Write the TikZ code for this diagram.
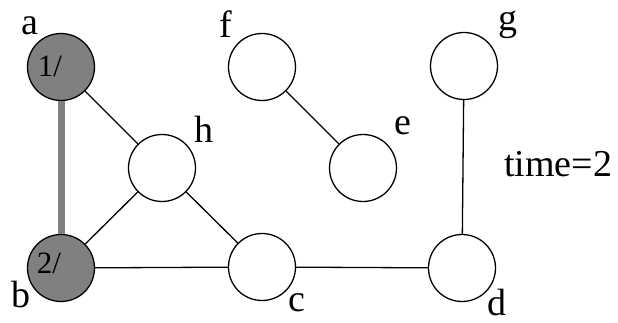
\documentclass[tikz,border=0pt]{standalone}
\usepackage{fontspec}
\setmainfont{Liberation Serif}
\definecolor{vgray}{RGB}{128,128,128}
\begin{document}
\begin{tikzpicture}[x=1pt,y=-1pt,
  vtx/.style={circle,draw=black,line width=1.3pt,fill=white,minimum size=67pt,inner sep=0pt},
  seen/.style={vtx,fill=vgray},
  lbl/.style={anchor=base,inner sep=0pt,font=\fontsize{38}{40}\selectfont},
  stamp/.style={anchor=base,inner sep=0pt,font=\fontsize{31}{33}\selectfont},
  edge/.style={line width=1.3pt,black},
  tree/.style={line width=7pt,vgray}]
\useasboundingbox (0,0) rectangle (618,323);
\node[seen] (a) at (61,67) {};
\node[seen] (b) at (61,268) {};
\node[vtx] (h) at (162,168) {};
\node[vtx] (c) at (262,267) {};
\node[vtx] (f) at (262,67) {};
\node[vtx] (e) at (363,168) {};
\node[vtx] (g) at (464,66) {};
\node[vtx] (d) at (462,268) {};
\draw[tree] (a) -- (b);
\draw[edge] (a) -- (h);
\draw[edge] (b) -- (h);
\draw[edge] (h) -- (c);
\draw[edge] (b) -- (c);
\draw[edge] (c) -- (d);
\draw[edge] (d) -- (g);
\draw[edge] (f) -- (e);
\node[stamp] (ta) at (50,77) {1/};
\node[stamp] (tb) at (49,273) {2/};
\node[lbl] (la) at (30,35) {a};
\node[lbl] (lb) at (21,307) {b};
\node[lbl] (lh) at (204,143) {h};
\node[lbl] (lf) at (226,38) {f};
\node[lbl] (le) at (403,135) {e};
\node[lbl] (lc) at (297,311) {c};
\node[lbl] (lg) at (508,31) {g};
\node[lbl] (ld) at (497,315) {d};
\node[lbl] (time) at (558,177) {time=2};
\end{tikzpicture}
\end{document}
